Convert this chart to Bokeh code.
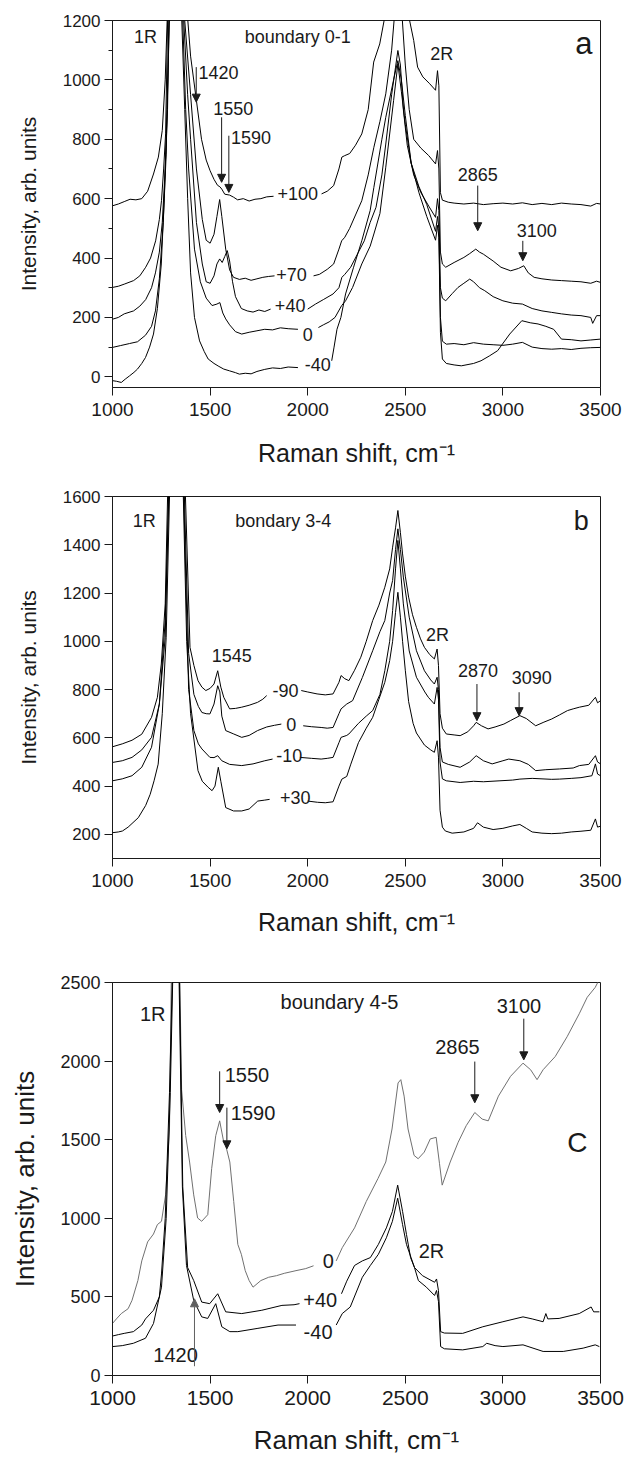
import numpy as np
from bokeh.plotting import figure
from bokeh.layouts import column
from bokeh.models import Range1d, SingleIntervalTicker, Arrow, NormalHead, ColumnDataSource
from bokeh.embed import file_html
from bokeh.resources import INLINE
from bokeh.core.properties import value

N = float("nan")
FONT = "Liberation Sans"

# ---------------- Panel a : boundary 0-1 ----------------
a_p100_x = [1000,1030,1060,1090,1120,1150,1180,1210,1235,1255,1270,1285,1332,1380,1400,1430,1456,1480,1500,1520,1538,1550,1560,1575,1600,1620,1641,1670,1700,1730,1760,1790,1825,N,2071,2100,2133,2160,2175,2190,2215,2245,2277,2310,2338,2369,2400,2460,2522,2543,2563,2590,2625,2655,2665,2672,2680,2690,2720,2750,2800,2850,2900,2950,3000,3050,3100,3150,3200,3250,3300,3350,3400,3450,3480,3500]
a_p100_y = [576,582,590,598,596,600,625,683,740,830,1000,1300,3000,1250,1080,930,800,730,694,665,645,640,632,615,612,605,596,600,592,598,600,606,608,N,616,625,644,700,740,745,752,780,818,900,1060,1121,1230,1700,1200,1133,1043,1010,987,965,1031,980,620,595,588,585,582,585,580,583,585,582,586,580,584,580,585,582,580,575,584,582]

a_p70_x = [1000,1030,1060,1108,1140,1170,1195,1221,1240,1251,1262,1272,1285,1332,1370,1400,1430,1460,1480,1500,1520,1535,1549,1560,1580,1600,1620,1650,1680,1710,1740,1770,1800,1830,N,2030,2060,2100,2133,2160,2174,2190,2215,2245,2277,2310,2339,2370,2400,2430,2455,2480,2500,2520,2543,2580,2620,2655,2665,2672,2680,2690,2707,2750,2800,2830,2861,2880,2900,2950,2990,3040,3080,3107,3130,3160,3200,3250,3300,3350,3400,3450,3480,3500]
a_p70_y = [301,305,312,324,340,369,400,458,530,593,700,818,1300,3000,1200,950,700,530,460,450,480,540,597,540,430,360,335,328,332,325,330,335,338,340,N,340,345,362,380,430,458,470,500,545,593,680,773,860,953,1100,1300,1250,1050,900,800,770,745,717,762,700,420,380,369,385,402,415,430,420,413,390,369,357,365,374,350,335,330,326,324,322,320,315,322,318]

a_p40_x = [1000,1030,1060,1108,1140,1170,1200,1220,1240,1255,1270,1282,1292,1332,1365,1385,1400,1430,1460,1480,1500,1520,1535,1549,1562,1575,1588,1600,1615,1630,1660,1690,1720,1750,1780,1810,N,2000,2040,2080,2130,2160,2175,2190,2220,2260,2290,2320,2350,2380,2400,2430,2450,2462,2475,2490,2510,2543,2580,2620,2655,2665,2672,2680,2690,2707,2740,2770,2800,2830,2850,2880,2907,2950,3000,3050,3100,3150,3200,3250,3300,3350,3400,3450,3460,3480,3500]
a_p40_y = [194,200,212,222,238,260,300,350,420,520,700,900,1300,3000,1200,950,800,520,380,320,315,340,380,397,385,405,425,390,320,270,230,222,218,225,220,228,N,228,245,260,279,300,335,345,369,420,458,520,571,680,784,950,1043,1099,1050,900,780,680,620,575,537,600,560,300,265,256,280,301,315,329,320,300,290,270,256,248,245,230,222,217,212,208,206,200,180,206,206]

a_0_x = [1000,1040,1087,1128,1169,1200,1220,1240,1260,1275,1292,1332,1360,1375,1390,1420,1450,1480,1510,1535,1550,1565,1580,1600,1630,1662,1700,1740,1780,1820,1860,1900,1950,N,2055,2080,2110,2140,2174,2194,2230,2277,2320,2339,2370,2400,2440,2462,2480,2500,2530,2570,2610,2655,2665,2672,2680,2690,2710,2750,2800,2850,2900,2950,3000,3050,3100,3150,3200,3250,3300,3350,3400,3450,3500]
a_0_y = [99,105,112,118,140,170,222,330,520,750,1300,3000,1200,900,700,430,320,265,240,245,250,215,195,175,152,144,150,155,160,158,165,162,160,N,166,175,185,200,240,256,301,380,440,481,550,706,930,1054,960,850,720,640,580,490,540,500,200,120,110,112,108,115,110,108,106,110,116,100,95,93,95,92,96,98,99]

a_m40_x = [1000,1020,1045,1065,1087,1110,1128,1150,1169,1190,1210,1230,1250,1265,1280,1295,1332,1355,1370,1385,1400,1420,1446,1470,1490,1520,1545,1570,1600,1630,1650,1680,1710,1740,1780,1820,1860,1900,1950,N,2123,2135,2150,2170,2194,2235,2277,2320,2339,2380,2400,2440,2462,2480,2500,2530,2570,2610,2655,2665,2672,2680,2690,2710,2750,2787,2850,2888,2930,2973,3035,3097,3140,3180,3220,3260,3300,3350,3400,3450,3500]
a_m40_y = [-13,-15,-19,-8,3,15,26,45,65,100,144,230,380,600,900,1300,3000,1200,900,600,350,200,121,85,60,45,35,26,20,14,9,12,10,18,25,30,28,33,31,N,54,100,160,200,279,369,458,560,638,800,874,1000,1065,1000,880,720,620,540,460,510,470,150,60,45,40,37,45,54,70,88,144,189,182,178,170,160,127,125,121,124,127]

# ---------------- Panel b : bondary 3-4 ----------------
b_m90_x = [1000,1050,1100,1150,1200,1230,1250,1270,1285,1330,1370,1397,1417,1438,1458,1478,1500,1520,1539,1555,1570,1600,1630,1662,1700,1743,1770,1790,N,1967,2000,2048,2090,2130,2160,2171,2190,2211,2240,2272,2300,2333,2365,2395,2420,2435,2450,2462,2475,2486,2500,2517,2537,2557,2578,2598,2625,2649,2663,2670,2678,2690,2710,2750,2781,2820,2850,2863,2890,2924,2960,3005,3040,3087,3120,3168,3210,3250,3290,3331,3360,3392,3440,3474,3485,3500]
b_m90_y = [563,575,590,615,685,768,906,1155,1700,4000,1700,975,900,837,810,796,805,823,878,810,768,720,722,727,735,747,760,775,N,796,790,782,778,782,830,858,845,837,880,934,1000,1086,1150,1224,1300,1390,1470,1542,1450,1362,1270,1183,1110,1058,1010,975,945,927,968,900,700,640,616,612,609,625,650,664,650,637,645,657,672,692,680,650,665,678,695,713,720,727,735,768,745,754]

b_0_x = [1000,1050,1100,1150,1200,1240,1270,1290,1330,1365,1390,1417,1440,1458,1480,1499,1520,1539,1550,1560,1580,1621,1662,1700,1743,1790,1830,1865,N,1977,2020,2069,2100,2130,2160,2171,2200,2230,2280,2333,2370,2395,2420,2435,2450,2462,2475,2490,2520,2557,2598,2630,2649,2663,2670,2678,2690,2720,2781,2830,2863,2900,2945,3000,3030,3087,3130,3168,3220,3290,3360,3392,3440,3474,3485,3500]
b_0_y = [498,505,519,550,602,740,1017,1700,4000,1700,950,780,730,705,700,699,740,816,790,690,630,616,602,610,630,645,652,657,N,650,646,643,640,643,700,720,740,754,850,961,1040,1086,1200,1252,1380,1466,1380,1266,1100,961,878,840,823,851,800,560,500,490,478,500,526,505,492,505,512,505,490,464,468,471,475,485,490,526,500,492]

b_m10_x = [1000,1050,1100,1150,1200,1240,1270,1292,1330,1362,1390,1417,1440,1458,1499,1520,1539,1560,1600,1662,1720,1780,1820,N,1960,2020,2069,2100,2130,2160,2171,2200,2211,2260,2300,2333,2370,2395,2420,2435,2450,2462,2475,2490,2520,2557,2600,2618,2649,2663,2670,2678,2690,2710,2781,2850,2900,2985,3050,3087,3150,3250,3290,3350,3400,3456,3474,3485,3500]
b_m10_y = [422,430,443,478,561,740,1086,1700,4000,1700,800,630,575,554,519,518,526,505,490,485,492,505,512,N,519,515,512,515,519,580,602,610,616,660,690,713,780,878,1000,1127,1300,1418,1300,1155,960,851,790,768,740,809,760,500,430,422,415,420,418,422,425,429,432,428,429,432,435,443,492,450,443]

b_p30_x = [1000,1030,1051,1080,1132,1170,1193,1213,1234,1255,1275,1295,1330,1360,1380,1400,1438,1460,1490,1510,1525,1542,1555,1580,1620,1662,1700,1744,1780,1805,N,2000,2050,2090,2130,2160,2175,2200,2221,2260,2300,2333,2365,2395,2420,2435,2450,2462,2475,2486,2500,2517,2540,2557,2598,2630,2649,2663,2670,2678,2690,2705,2740,2800,2850,2870,2900,2950,3000,3050,3087,3120,3150,3200,3250,3300,3350,3400,3450,3474,3485,3500]
b_p30_y = [207,210,214,230,269,320,366,422,491,700,1017,1700,4000,1700,1000,700,464,420,395,381,400,478,420,311,297,297,305,338,342,345,N,338,333,331,335,400,429,440,491,580,640,685,760,830,920,1000,1120,1203,1100,1000,880,750,660,620,570,550,540,588,520,300,230,214,205,210,225,248,230,220,225,235,241,225,210,205,203,205,210,213,217,264,230,234]

# ---------------- Panel c : boundary 4-5 ----------------
c_0_x = [1000,1020,1045,1080,1100,1130,1150,1180,1210,1230,1251,1272,1292,1302,1322,1344,1354,1375,1395,1416,1436,1457,1488,1508,1529,1549,1570,1580,1601,1621,1642,1660,1680,1700,1720,1760,1800,1840,1880,1940,1990,2030,N,2146,2177,2240,2300,2360,2400,2432,2463,2477,2494,2514,2545,2566,2597,2628,2658,2675,2689,2730,2771,2812,2856,2894,2925,2977,3039,3103,3142,3175,3206,3268,3329,3391,3432,3473,3494]
c_0_y = [331,360,394,425,478,604,729,850,900,960,981,1149,1568,2600,4000,2600,1819,1526,1358,1149,1002,981,1023,1316,1526,1620,1484,1463,1358,1107,834,771,667,604,562,604,625,635,650,667,680,698,N,729,813,939,1107,1253,1358,1568,1861,1882,1777,1568,1400,1379,1421,1505,1515,1350,1211,1358,1484,1589,1673,1631,1620,1777,1903,1987,1945,1882,1945,2029,2155,2301,2406,2469,2520]

c_p40_x = [1000,1030,1060,1107,1150,1169,1210,1240,1251,1270,1292,1308,1325,1342,1360,1385,1416,1457,1498,1539,1580,1662,1765,1868,1930,1958,N,2173,2200,2240,2280,2321,2362,2403,2434,2461,2486,2506,2527,2547,2588,2650,2660,2670,2681,2700,2794,2897,3000,3103,3150,3206,3220,3230,3288,3391,3452,3465,3494]
c_p40_y = [251,260,268,279,321,360,415,500,646,1000,1800,2600,5000,2600,1200,687,604,467,457,520,405,394,415,446,450,457,N,520,600,700,729,750,834,939,1044,1211,1044,897,750,687,635,593,614,540,279,270,268,310,342,373,360,342,394,360,363,394,436,405,405]

c_m40_x = [1000,1050,1107,1169,1210,1251,1275,1296,1310,1325,1340,1358,1379,1416,1457,1488,1529,1560,1601,1642,1745,1848,1940,N,2146,2177,2218,2280,2321,2362,2403,2434,2461,2486,2506,2547,2567,2608,2650,2660,2670,2681,2700,2794,2897,2917,2960,3000,3103,3206,3309,3411,3473,3494]
c_m40_y = [184,190,205,237,331,562,1000,1800,2600,5000,2600,1200,700,478,373,363,457,310,279,279,300,321,321,N,321,394,436,625,700,771,876,981,1128,960,834,687,604,562,509,541,470,184,170,163,184,205,190,184,195,153,153,174,195,184]

# ---------------- annotation texts ----------------
a_labels = ["1R", "boundary 0-1", "2R", "1420", "1550", "1590", "+100", "+70", "+40", "0", "-40", "2865", "3100"]
a_label_x = [1169, 1949, 2687, 1543, 1619, 1710, 1949, 1917, 1910, 2000, 2051, 2871, 3173]
a_label_y = [1144, 1144, 1088, 1026, 902, 807, 618, 346, 239, 144, 43, 683, 492]
a_arrows = [(1429, 1043, 925), (1559, 874, 655), (1596, 812, 621), (2871, 644, 492), (3102, 458, 391)]

b_labels = ["1R", "bondary 3-4", "1545", "2R", "2870", "3090", "-90", "0", "-10", "+30"]
b_label_x = [1163, 1875, 1611, 2665, 2873, 3148, 1886, 1916, 1906, 1936]
b_label_y = [1500, 1500, 941, 1028, 878, 851, 796, 657, 526, 353]
b_arrows = [(2867, 823, 671), (3083, 789, 692)]

c_labels = ["1R", "boundary 4-5", "3100", "2865", "1550", "1590", "2R", "0", "+40", "-40", "1420"]
c_label_x = [1206, 2163, 3082, 2767, 1689, 1720, 2634, 2105, 2064, 2053, 1323]
c_label_y = [2301, 2375, 2348, 2092, 1914, 1673, 792, 729, 478, 279, 132]
c_arrows = [(3107, 2270, 2008), (2856, 1997, 1735), (1549, 1935, 1673), (1586, 1704, 1442), (1420, 59, 488)]

INK = "#1a1a1a"
XTITLE = "Raman shift, cm\u207b\u00b9"
YTITLE = "Intensity, arb. units"


def make_panel(height, yr, yint, yminor, xminor, borders, fonts, standoffs):
    p = figure(width=629, height=height, x_range=Range1d(1000, 3500), y_range=Range1d(*yr),
               output_backend="svg", toolbar_location=None,
               min_border_left=borders[0], min_border_right=borders[1],
               min_border_top=borders[2], min_border_bottom=borders[3],
               x_axis_label=XTITLE, y_axis_label=YTITLE)
    p.grid.visible = False
    p.outline_line_color = INK
    p.outline_line_width = 1
    p.background_fill_color = "white"
    p.border_fill_color = "white"
    p.xaxis.ticker = SingleIntervalTicker(interval=500, num_minor_ticks=xminor)
    p.yaxis.ticker = SingleIntervalTicker(interval=yint, num_minor_ticks=yminor)
    for ax in (p.xaxis[0], p.yaxis[0]):
        ax.axis_line_color = INK
        ax.major_tick_line_color = INK
        ax.minor_tick_line_color = INK
        ax.major_tick_out = 8
        ax.major_tick_in = 0
        ax.minor_tick_out = 4
        ax.minor_tick_in = 0
        ax.major_label_text_font = FONT
        ax.axis_label_text_font = FONT
        ax.axis_label_text_font_style = "normal"
        ax.major_label_text_color = INK
        ax.axis_label_text_color = INK
    p.xaxis.major_label_standoff = 7
    p.yaxis.major_label_standoff = 4
    p.xaxis.major_label_text_font_size = fonts[0]
    p.yaxis.major_label_text_font_size = fonts[1]
    p.xaxis.axis_label_text_font_size = fonts[2]
    p.yaxis.axis_label_text_font_size = fonts[3]
    p.xaxis.axis_label_standoff = standoffs[0]
    p.yaxis.axis_label_standoff = standoffs[1]
    return p


def add_text(p, labels, xs, ys, size):
    src = ColumnDataSource(dict(x=xs, y=ys, t=labels))
    p.text(x="x", y="y", text="t", source=src, text_font=value(FONT), text_font_size=size,
           text_align="center", text_baseline="middle", text_color=INK)


def add_arrows(p, arrows, color=INK):
    for (x, y0, y1) in arrows:
        p.add_layout(Arrow(end=NormalHead(size=8, line_color=color, fill_color=color, line_width=1),
                           x_start=x, y_start=y0, x_end=x, y_end=y1, line_color=color, line_width=1))


def add_letter(p, letter, x, y, size):
    p.text(x=[x], y=[y], text=[letter], text_font=value(FONT), text_font_size=size,
           text_align="center", text_baseline="middle", text_color=INK)


# panel a
pa = make_panel(480, (-36, 1200), 200, 2, 0, (112, 27, 20, 93),
                ("19px", "17px", "25px", "21px"), (20, 20))
for xs, ys in [(a_p100_x, a_p100_y), (a_p70_x, a_p70_y), (a_p40_x, a_p40_y), (a_0_x, a_0_y), (a_m40_x, a_m40_y)]:
    pa.line(np.array(xs, dtype=float), np.array(ys, dtype=float), line_color="black", line_width=1)
add_text(pa, a_labels, a_label_x, a_label_y, "18px")
add_arrows(pa, a_arrows)
add_letter(pa, "a", 3415, 1121, "31px")

# panel b
pb = make_panel(480, (100, 1600), 200, 0, 0, (111, 26, 16, 102),
                ("19px", "17px", "25px", "21px"), (18, 20))
for xs, ys in [(b_m90_x, b_m90_y), (b_0_x, b_0_y), (b_m10_x, b_m10_y), (b_p30_x, b_p30_y)]:
    pb.line(np.array(xs, dtype=float), np.array(ys, dtype=float), line_color="black", line_width=1)
add_text(pb, b_labels, b_label_x, b_label_y, "18px")
add_arrows(pb, b_arrows)
add_letter(pb, "b", 3402, 1500, "27px")

# panel c
pc = make_panel(497, (0, 2500), 500, 1, 1, (112, 29, 22, 77),
                ("21px", "18px", "26px", "26px"), (17, 17))
pc.line(np.array(c_0_x, dtype=float), np.array(c_0_y, dtype=float), line_color="#707070", line_width=1)
for xs, ys in [(c_p40_x, c_p40_y), (c_m40_x, c_m40_y)]:
    pc.line(np.array(xs, dtype=float), np.array(ys, dtype=float), line_color="black", line_width=1)
add_text(pc, c_labels, c_label_x, c_label_y, "20px")
add_arrows(pc, c_arrows[:4])
add_arrows(pc, c_arrows[4:], color="#606060")
add_letter(pc, "C", 3381, 1484, "28px")

layout = column(pa, pb, pc, spacing=0)
open("out.html", "w").write(file_html(layout, INLINE))
